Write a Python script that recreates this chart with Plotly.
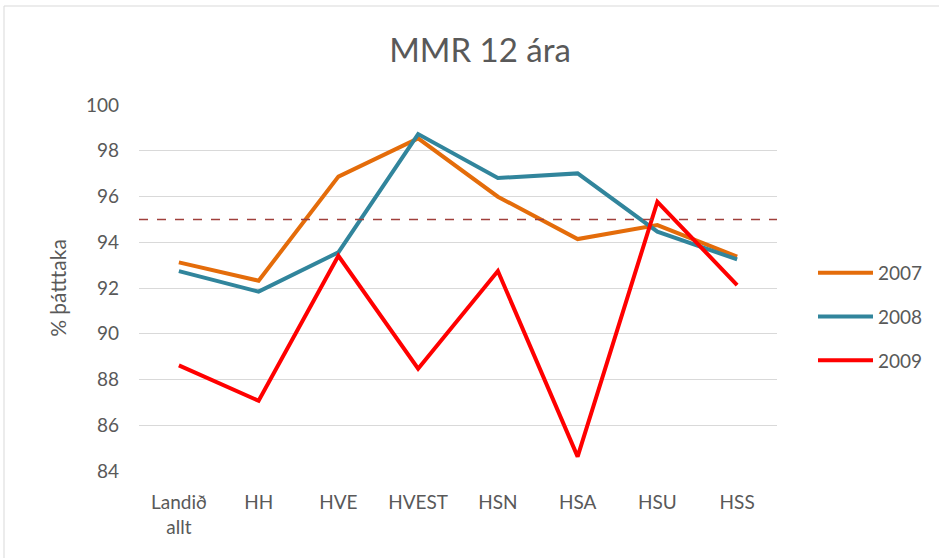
import plotly.graph_objects as go

categories = ["Landið<br>allt", "HH", "HVE", "HVEST", "HSN", "HSA", "HSU", "HSS"]
y2007 = [93.12, 92.32, 96.87, 98.54, 95.99, 94.14, 94.75, 93.37]
y2008 = [92.74, 91.84, 93.56, 98.73, 96.81, 97.01, 94.46, 93.25]
y2009 = [88.62, 87.07, 93.41, 88.47, 92.74, 84.63, 95.77, 92.13]
series_names = ["2007", "2008", "2009"]
colors = ["#E46C0A", "#31859C", "#FF0000"]
target = 95
y_ticks = [84, 86, 88, 90, 92, 94, 96, 98, 100]

FONT = "Lato"
fig = go.Figure()
for name, vals, col in zip(series_names, [y2007, y2008, y2009], colors):
    fig.add_trace(go.Scatter(x=categories, y=vals, mode="lines", name=name,
                             legendgroup=name,
                             line=dict(color=col, width=4)))

fig.add_shape(type="line", xref="paper", yref="y", x0=0, x1=1, y0=target, y1=target,
              line=dict(color="#A0403C", width=1.5, dash="dash"), layer="above")

L, R, T, B = 139, 162, 105, 87
W, H = 939, 558
pw = W - L - R
ph = H - T - B
# outer border (chart area)
fig.add_shape(type="rect", xref="paper", yref="paper",
              x0=(4 - L) / pw, x1=(W + 5 - L) / pw,
              y0=-(H + 5 - T - ph) / ph, y1=1 + (T - 6) / ph,
              line=dict(color="#D9D9D9", width=1), fillcolor="rgba(0,0,0,0)")

fig.update_layout(
    width=W, height=H,
    margin=dict(l=L, r=R, t=T, b=B, autoexpand=False),
    paper_bgcolor="white", plot_bgcolor="white",
    font=dict(family=FONT, color="#595959", size=19),
    title=dict(text="MMR 12 ára", x=480 / W, xanchor="center",
               y=1 - 50 / H, yanchor="middle",
               font=dict(size=33, color="#595959", family=FONT)),
    showlegend=True,
    legend=dict(x=(813 - L) / pw, xanchor="left", y=0.593, yanchor="top",
                font=dict(size=19, color="#595959"), tracegroupgap=16,
                itemwidth=55, bgcolor="rgba(0,0,0,0)"),
    xaxis=dict(showgrid=False, showline=False, zeroline=False, ticks="",
               automargin=False, ticklabelstandoff=18,
               tickfont=dict(size=19, color="#595959"), range=[-0.5, 7.5]),
    yaxis=dict(range=[84, 100], tickvals=y_ticks, showgrid=True, gridcolor="#D9D9D9",
               gridwidth=1.3, zeroline=False, showline=False, ticks="",
               automargin=False, ticklabelstandoff=19,
               tickfont=dict(size=19, color="#595959"),
               title=dict(text="% þátttaka", font=dict(size=21, color="#595959"), standoff=13)),
)
fig.write_html("out.html", config={"displayModeBar": False},
               post_script="document.body.style.margin='0';document.body.style.overflow='hidden';")
